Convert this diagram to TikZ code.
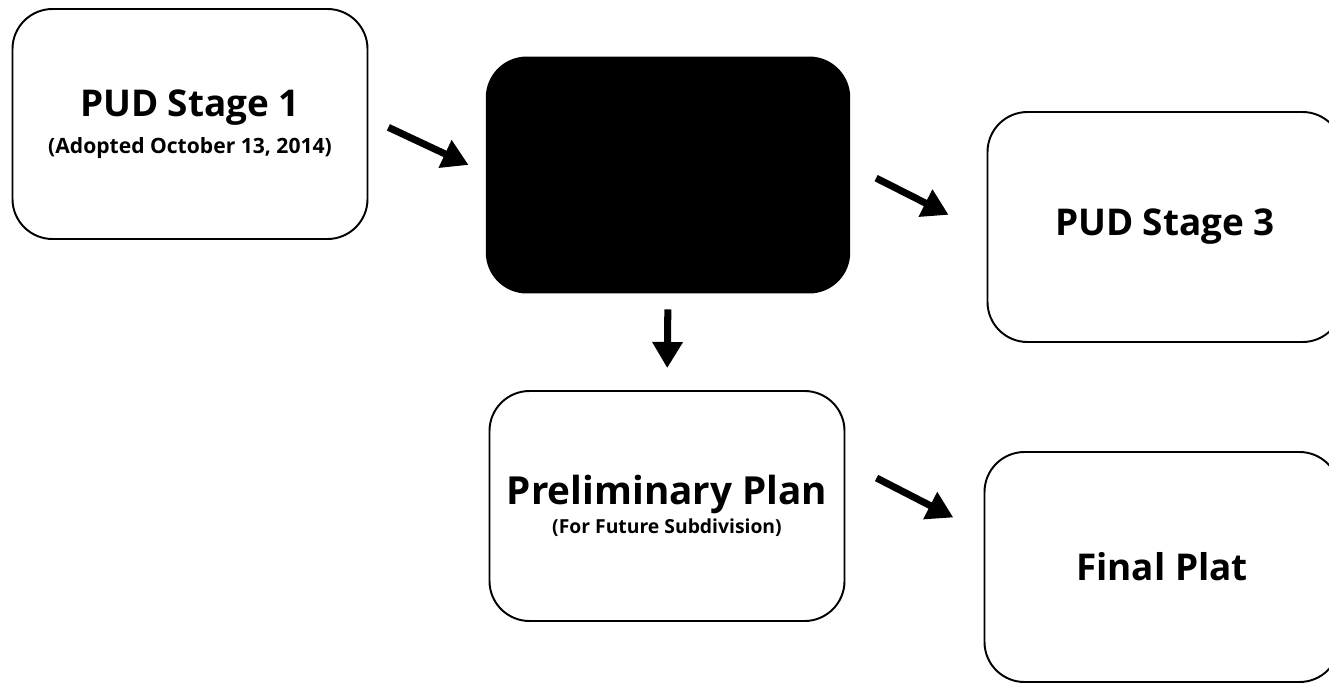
\documentclass[tikz,border=0pt]{standalone}
\usepackage{fontspec}
\setmainfont{Open Sans}
\usetikzlibrary{arrows.meta}

\begin{document}
\begin{tikzpicture}[
  stagebox/.style={draw,line width=1.1pt,rounded corners=0.8cm,minimum width=7.1cm,minimum height=4.6cm,align=center,font=\bfseries},
  flowarrow/.style={line width=4pt,-{Triangle[length=0.52cm,width=0.58cm]}}
]
\useasboundingbox (0,0) rectangle (26.58,-13.68);
\node[stagebox] (stage1) at (3.8,-2.48) {{\fontsize{21}{24}\selectfont PUD Stage 1}\\[6pt]{\fontsize{12}{14}\selectfont (Adopted October 13, 2014)}};
\node[stagebox,fill=black,minimum width=7.25cm,minimum height=4.7cm] (stage2) at (13.36,-3.5) {};
\node[stagebox] (stage3) at (23.3,-4.54) {\fontsize{21}{24}\selectfont PUD Stage 3};
\node[stagebox] (prelim) at (13.34,-10.12) {{\fontsize{22}{25}\selectfont Preliminary Plan}\\[2pt]{\fontsize{11}{13}\selectfont (For Future Subdivision)}};
\node[stagebox] (final) at (23.24,-11.34) {\fontsize{21}{24}\selectfont Final Plat};
% arrows between stages
\draw[flowarrow,shorten <=0.44cm,shorten >=0.38cm] ([yshift=0.12cm]stage1.east) -- ([yshift=0.04cm]stage2.west);
\draw[flowarrow,shorten <=0.58cm,shorten >=0.85cm] ([yshift=0.2cm]stage2.east) -- ([yshift=-0.14cm]stage3.west);
\draw[flowarrow,shorten <=0.32cm,shorten >=0.44cm] (stage2.south) -- (prelim.north);
\draw[flowarrow,shorten <=0.7cm,shorten >=0.68cm] ([yshift=0.88cm]prelim.east) -- ([yshift=0.68cm]final.west);
\end{tikzpicture}
\end{document}
